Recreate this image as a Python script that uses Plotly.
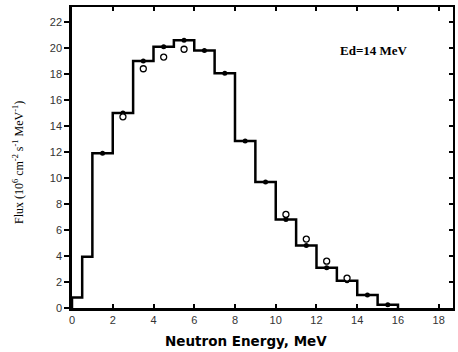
import plotly.graph_objects as go

bin_edges = [0, 0.5, 1, 2, 3, 4, 5, 6, 7, 8, 9, 10, 11, 12, 13, 14, 15, 16]
flux_hist = [0.8, 3.95, 11.9, 15.0, 19.0, 20.1, 20.6, 19.8, 18.05, 12.85, 9.7, 6.8, 4.8, 3.1, 2.1, 1.0, 0.25]

dot_x = [1.5, 2.5, 3.5, 4.5, 5.5, 6.5, 7.5, 8.5, 9.5, 10.5, 11.5, 12.5, 13.5, 14.5, 15.5]
dot_y = [11.9, 15.0, 19.0, 20.1, 20.6, 19.8, 18.05, 12.85, 9.7, 6.8, 4.8, 3.1, 2.1, 1.0, 0.25]

open_x = [2.5, 3.5, 4.5, 5.5, 10.5, 11.5, 12.5, 13.5]
open_y = [14.7, 18.4, 19.3, 19.9, 7.2, 5.3, 3.6, 2.3]

x_ticks = [0, 2, 4, 6, 8, 10, 12, 14, 16, 18]
y_ticks = [0, 2, 4, 6, 8, 10, 12, 14, 16, 18, 20, 22]

XR = [0, 18.7]
YR = [0, 23.15]

W, H = 458, 352
ML, MR, MT, MB = 72, 5, 7, 44
pw = W - ML - MR
ph = H - MT - MB


def px_to_paper(x, y):
    return (x - ML) / pw, (H - MB - y) / ph


fig = go.Figure()
fig.add_trace(go.Scatter(
    x=[bin_edges[0]] + bin_edges, y=[0] + flux_hist + [0],
    mode="lines", line=dict(color="black", width=2.5, shape="hv"),
    showlegend=False, hoverinfo="skip"))
fig.add_trace(go.Scatter(
    x=dot_x, y=dot_y, mode="markers",
    marker=dict(color="black", size=5, symbol="circle"), showlegend=False))
fig.add_trace(go.Scatter(
    x=open_x, y=open_y, mode="markers",
    marker=dict(color="white", size=6, symbol="circle",
                line=dict(color="black", width=1.3)), showlegend=False))
fig.add_trace(go.Scatter(x=[None], y=[None], xaxis="x2", yaxis="y2", showlegend=False))

tickfont = dict(family="Liberation Sans, Arial, sans-serif", size=11, color="#333")

ed_x, ed_y = px_to_paper(374, 51)
xt_x, xt_y = px_to_paper(246, 341)
yt_x, yt_y = px_to_paper(18, 163)

fig.update_layout(
    width=W, height=H,
    margin=dict(l=ML, r=MR, t=MT, b=MB),
    paper_bgcolor="white", plot_bgcolor="white",
    xaxis=dict(range=XR, tickvals=x_ticks, ticks="inside", ticklen=4,
               tickwidth=1.5, tickcolor="black", showline=True,
               linecolor="black", linewidth=2.5, showgrid=False, zeroline=False,
               tickfont=tickfont),
    yaxis=dict(range=YR, tickvals=y_ticks, ticks="outside", ticklen=5,
               tickwidth=1.5, tickcolor="black", showline=True,
               linecolor="black", linewidth=2.5, showgrid=False, zeroline=False,
               tickfont=tickfont),
    xaxis2=dict(range=XR, tickvals=x_ticks, ticks="inside", ticklen=4,
                tickwidth=1.5, tickcolor="black", showline=True, linecolor="black",
                linewidth=2, showgrid=False, zeroline=False, showticklabels=False,
                overlaying="x", side="top", matches="x"),
    yaxis2=dict(range=YR, tickvals=y_ticks, ticks="inside", ticklen=4,
                tickwidth=1.5, tickcolor="black", showline=True, linecolor="black",
                linewidth=2, showgrid=False, zeroline=False, showticklabels=False,
                overlaying="y", side="right"),
    annotations=[
        dict(text="<b>Ed=14 MeV</b>", x=ed_x, y=ed_y, xref="paper", yref="paper",
             xanchor="center", yanchor="middle", showarrow=False,
             font=dict(family="Liberation Serif, Times New Roman, serif", size=13, color="black")),
        dict(text="<b>Neutron Energy, MeV</b>", x=xt_x, y=xt_y, xref="paper", yref="paper",
             xanchor="center", yanchor="middle", showarrow=False,
             font=dict(family="DejaVu Sans, Verdana, sans-serif", size=13.5, color="black")),
        dict(text="Flux (10<sup>6</sup> cm<sup>-2</sup> s<sup>-1</sup> MeV<sup>-1</sup>)",
             x=yt_x, y=yt_y, xref="paper", yref="paper", textangle=-90,
             xanchor="center", yanchor="middle", showarrow=False,
             font=dict(family="Liberation Serif, Times New Roman, serif", size=12, color="black")),
    ],
)

fig.write_html("out.html", config={"displayModeBar": False},
               post_script="document.body.style.margin='0';document.body.style.overflow='hidden';")
